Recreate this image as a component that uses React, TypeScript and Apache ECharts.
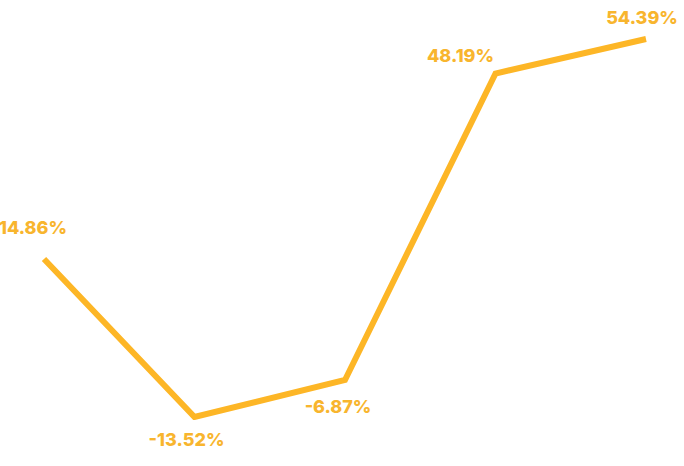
import React, { useEffect, useRef } from 'react';
import * as echarts from 'echarts';

const categories = ['1', '2', '3', '4', '5'];
const values = [14.86, -13.52, -6.87, 48.19, 54.39];
// label offsets from each point, in px
const labelOffsets = [
  [-11, -32],
  [-8, 22],
  [-7, 27],
  [-35, -18],
  [-4, -22],
];

const LINE_COLOR = '#FDB626';
const LABEL_COLOR = '#F8B52E';

export default function App() {
  const chartRef = useRef<HTMLDivElement>(null);

  useEffect(() => {
    if (!chartRef.current) return;
    const chart = echarts.init(chartRef.current, undefined, { renderer: 'svg' });

    const option: echarts.EChartsOption = {
      animation: false,
      grid: { left: 44, right: 38, top: 39, bottom: 49 },
      xAxis: {
        type: 'category',
        data: categories,
        boundaryGap: false,
        show: false,
      },
      yAxis: {
        type: 'value',
        min: 'dataMin',
        max: 'dataMax',
        show: false,
      },
      series: [
        {
          type: 'line',
          data: values.map((v, i) => ({
            value: v,
            label: { offset: labelOffsets[i] },
          })),
          symbol: 'circle',
          symbolSize: 1,
          itemStyle: { color: 'rgba(0,0,0,0)' },
          lineStyle: { color: LINE_COLOR, width: 6, join: 'miter' },
          label: {
            show: true,
            position: 'inside',
            formatter: (p: any) => `${p.value.toFixed(2)}%`,
            color: LABEL_COLOR,
            fontSize: 18,
            fontWeight: 800,
            fontFamily: 'Inter',
          },
        },
      ],
    };

    chart.setOption(option);
    return () => chart.dispose();
  }, []);

  return (
    <div
      ref={chartRef}
      style={{ position: 'fixed', left: 0, top: 0, width: 684, height: 466, background: '#fff' }}
    />
  );
}
